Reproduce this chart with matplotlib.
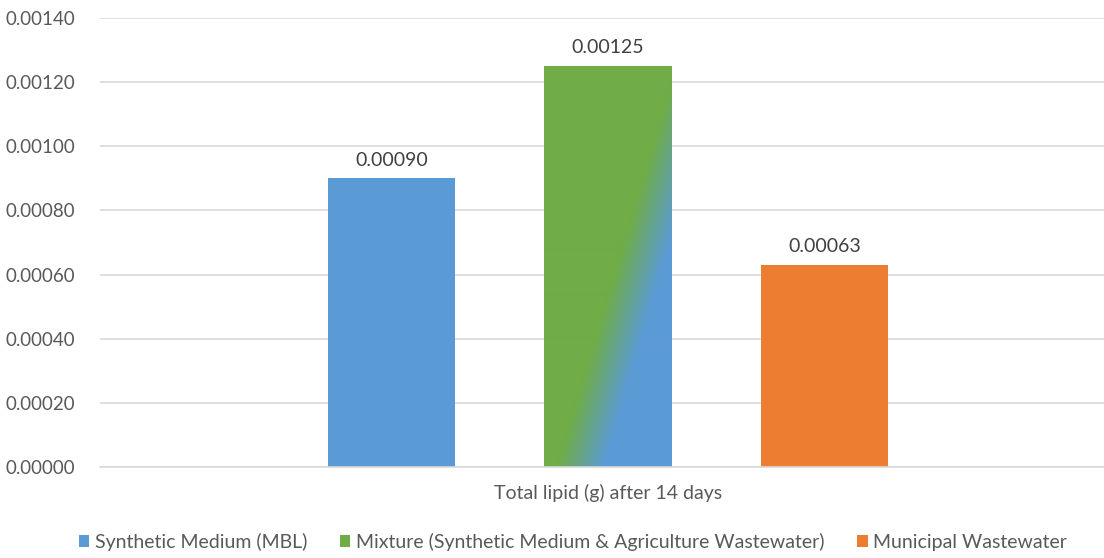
import numpy as np
import matplotlib

matplotlib.use('Agg')

import matplotlib.pyplot as plt

plt.rcParams['font.family'] = ['Lato', 'DejaVu Sans']

series = ['Synthetic Medium (MBL)',
          'Mixture (Synthetic Medium & Agriculture Wastewater)',
          'Municipal Wastewater']
values = [0.00090, 0.00125, 0.00063]
value_labels = ['0.00090', '0.00125', '0.00063']
category = 'Total lipid (g) after 14 days'
yticks = [0.0, 0.0002, 0.0004, 0.0006, 0.0008, 0.0010, 0.0012, 0.0014]

BLUE = '#5B9BD5'
GREEN = '#70AD47'
ORANGE = '#ED7D31'
colors = [BLUE, GREEN, ORANGE]

fig = plt.figure(figsize=(11.04, 5.58), dpi=100)
ax = fig.add_axes([100 / 1104, (558 - 467) / 558, 1004 / 1104, 449 / 558])

positions = np.arange(len(series)) - 1
width = 0.587
bars = ax.bar(positions, values, width=width, color=colors, label=series, zorder=2)

# gradient fill for the mixture bar: green top-left, blue bottom-right
gbar = bars[1]
bx, by = gbar.get_x(), gbar.get_y()
bw, bh = gbar.get_width(), gbar.get_height()
X, Y = np.meshgrid(np.linspace(0, 128, 128), np.linspace(0, 400, 400))
d = ((X - 36) * 307 - Y * 92) / 320.5
t = np.clip(0.5 + d / 45, 0, 1)[..., None]
g = np.array(matplotlib.colors.to_rgb(GREEN))
b = np.array(matplotlib.colors.to_rgb(BLUE))
img = g * (1 - t) + b * t
im = ax.imshow(img, extent=[bx, bx + bw, by, by + bh], origin='lower',
               aspect='auto', zorder=2.5, interpolation='bilinear')
im.set_clip_path(gbar)

for p, v, lab in zip(positions, values, value_labels):
    ax.text(p, v + 0.00003, lab, ha='center', va='bottom', fontsize=14,
            color='#404040')

ax.set_xlim(-2.346, 2.291)
ax.set_ylim(0, 0.0014)
ax.set_yticks(yticks)
ax.set_yticklabels([f'{v:.5f}' for v in yticks], fontsize=13.5, color='#595959')
ax.yaxis.grid(True, color='#D9D9D9', linewidth=1.2, zorder=0)
ax.tick_params(axis='y', length=0, pad=18)
ax.set_xticks([])
for s in ['top', 'right', 'left']:
    ax.spines[s].set_visible(False)
ax.spines['bottom'].set_color('#D9D9D9')
ax.spines['bottom'].set_linewidth(1.2)

ax.text(0, -0.00008, category, ha='center', va='center', fontsize=14,
        color='#595959')

fig.legend(handles=bars, labels=series, loc='center', ncol=3,
           bbox_to_anchor=(573 / 1104, 1 - 542 / 558), frameon=False,
           fontsize=14, handlelength=0.55, handleheight=0.55,
           handletextpad=0.3, columnspacing=1.65, labelcolor='#595959')

fig.savefig('out.png', dpi=100)
